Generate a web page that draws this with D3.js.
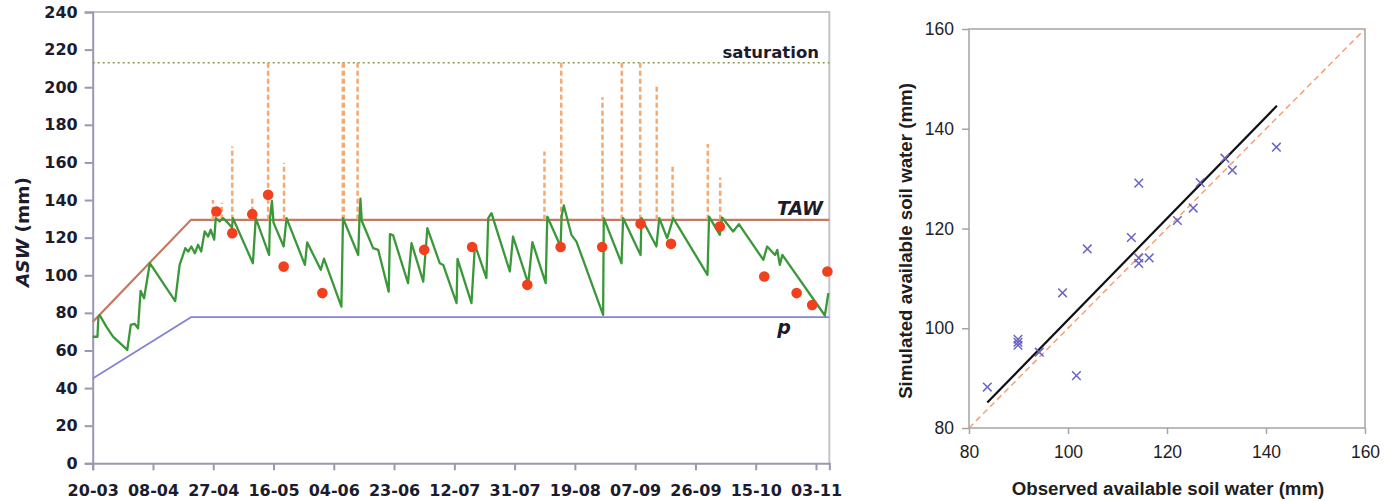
<!DOCTYPE html>
<html>
<head>
<meta charset="utf-8">
<script src="https://cdn.jsdelivr.net/npm/d3@7"></script>
<style>
  body { margin: 0; background: #fff; }
  svg { display: block; }
</style>
</head>
<body>
<svg id="chart" width="1397" height="501"></svg>
<script>
// season day (0 = 20-03) and simulated ASW (mm)
const simDay = [0, 1.5, 1.8, 2.2, 4.3, 6.4, 10.9, 12, 13.2, 14.3, 15.1, 16.2, 18, 26, 27.4, 29.2,
  30.1, 31.1, 32.2, 33.2, 34.2, 35.3, 36.4, 37.2, 38.3, 38.8, 40, 41.1, 42.7, 43.9, 44.2,
  50.5, 51.4, 55.6, 55.9, 56.5, 57, 60.2, 61.1, 66.9, 67.6, 71.9, 72.9, 78.4, 78.9,
  83.7, 84.1, 84.4, 84.8, 88.4, 90, 93.3, 93.7, 94.7, 99.4, 100.5, 104.2, 105.5, 109.4,
  110.5, 114.7, 115, 119.4, 120.5, 124.1, 124.7, 125.7, 131.5, 132.5, 137.3, 138.6,
  142.8, 143.3, 147.5, 147.8, 148.5, 150.9, 152.5, 160.9, 161.1, 166.7, 167.2, 172.7,
  173, 177.7, 178.6, 181.1, 183, 193.8, 194.3, 197.7, 198.4, 201.9, 203.7, 211.4, 212.6,
  215.1, 215.8, 216.6, 217.4, 230.8, 231.9];
const simASW = [67.3, 67.3, 78, 78.8, 72.7, 67.4, 60.3, 73.6, 74.2, 71.8, 91.7, 87.8, 106.4, 86.3, 105.5, 114.4,
  112.6, 115.3, 111.7, 116.2, 112.6, 123.3, 120.6, 124.2, 118.9, 130.4, 128.6, 130.4, 127.7, 125.4, 130.4,
  106.4, 130.4, 110.8, 130.4, 139.6, 128, 115.3, 130.4, 105.5, 117.5, 102.9, 108.8, 83.3, 130.4,
  110.8, 130.4, 140.8, 129, 114.4, 113.5, 91.3, 121.9, 121.2, 95.8, 117.1, 96.6, 125.1, 106.4,
  105.5, 85.2, 108.7, 85.2, 116.2, 98.5, 130.4, 133, 102, 120.6, 95.5, 117.6,
  95.8, 131.2, 115.3, 131.2, 137.1, 121.5, 117.9, 78.9, 130.4, 106.4, 130.4, 110.8,
  130.4, 115.3, 130.4, 119.7, 130.4, 100.2, 131.2, 121.5, 130.7, 123.3, 127.2, 108.2, 115.3,
  110.8, 113.5, 105.5, 110.8, 78.6, 90.5];

// observed ASW (red dots)
const obsDay = [39, 44, 50.3, 55.3, 60.2, 72.4, 104.5, 119.6, 137, 147.5, 160.6, 172.7, 182.3, 197.7, 211.7, 221.9, 226.8, 231.6];
const obsASW = [133.9, 122.4, 132.5, 142.8, 104.6, 90.5, 113.5, 115, 94.9, 115, 115, 127.4, 116.7, 125.9, 99.3, 90.5, 84.2, 102];

// days where ASW overshoots TAW (orange dashed spikes) and their tops
const spikeDay = [37.9, 40.7, 44.0, 50.3, 55.3, 60.3, 79.0, 83.5, 142.4, 147.7, 160.7, 166.8, 172.6, 177.8, 182.8, 193.9, 197.8];
const spikeTop = [140, 138.5, 168.5, 142.3, 213, 159.8, 213, 213, 165.8, 213, 194.6, 213, 213, 200.4, 158.8, 169.8, 152];

const tawDay = [0, 31, 232.2];
const tawASW = [75.2, 129.5, 129.5];
const pASW = [45.1, 77.7, 77.7];
const saturation = 213;

const xTickDay = [0, 19, 38, 57, 76, 95, 114, 133, 152, 171, 190, 209, 228];
const xTickLabel = ['20-03', '08-04', '27-04', '16-05', '04-06', '23-06', '12-07', '31-07', '19-08', '07-09', '26-09', '15-10', '03-11'];
const yTicks = d3.range(0, 241, 20);

// scatter: observed vs simulated
const obsAvail = [83.7, 89.9, 89.9, 89.9, 94.2, 98.9, 101.7, 103.9, 112.8, 114.3, 114.3, 114.3, 116.4, 122.1, 125.3, 126.7, 131.7, 133.2, 142.1];
const simAvail = [88.2, 97.8, 96.6, 97.2, 95.2, 107.1, 90.5, 115.9, 118.2, 129.1, 114.1, 113.0, 114.1, 121.6, 124.1, 129.2, 134.1, 131.7, 136.3];
const fitObs = [83.7, 142.2];
const fitSim = [85.1, 144.6];
const scatterTicks = [80, 100, 120, 140, 160];

const svg = d3.select('#chart');

// ---------- left panel ----------
const x = d3.scaleLinear().domain([0, 232.2]).range([92.7, 829.3]);
const y = d3.scaleLinear().domain([0, 240]).range([463.3, 12]);

const left = svg.append('g');

// frame
left.append('path')
  .attr('d', `M${x(0)},${y(240)}H${x(232.2)}V${y(0)}`)
  .attr('fill', 'none').attr('stroke', '#c4c4c8').attr('stroke-width', 2);

const yAxis = left.append('g')
  .attr('transform', `translate(${x(0)},0)`)
  .call(d3.axisLeft(y).tickValues(yTicks).tickSize(8).tickPadding(7));
const xAxis = left.append('g')
  .attr('transform', `translate(0,${y(0)})`)
  .call(d3.axisBottom(x).tickValues(xTickDay).tickSize(7).tickPadding(14)
    .tickFormat((d, i) => xTickLabel[i]));
[yAxis, xAxis].forEach(a => {
  a.selectAll('path, line').attr('stroke', '#9a98ae').attr('stroke-width', 2);
  a.selectAll('text').attr('font-family', 'DejaVu Sans').attr('font-weight', 'bold')
    .attr('font-size', 16).attr('fill', '#1c1c2c');
});

// saturation
left.append('line')
  .attr('x1', x(0)).attr('x2', x(232.2))
  .attr('y1', y(saturation)).attr('y2', y(saturation))
  .attr('stroke', '#8c9450').attr('stroke-width', 1.3).attr('stroke-dasharray', '2,3');

const line = d3.line();

// TAW and p
left.append('path')
  .attr('d', line(tawDay.map((d, i) => [x(d), y(tawASW[i])])))
  .attr('fill', 'none').attr('stroke', '#c47a62').attr('stroke-width', 2.2);
left.append('path')
  .attr('d', line(tawDay.map((d, i) => [x(d), y(pASW[i])])))
  .attr('fill', 'none').attr('stroke', '#8484d4').attr('stroke-width', 1.7);

// spikes above TAW
left.append('g').selectAll('line')
  .data(spikeDay)
  .join('line')
  .attr('x1', d => x(d)).attr('x2', d => x(d))
  .attr('y1', y(129.5)).attr('y2', (d, i) => y(spikeTop[i]))
  .attr('stroke', '#f8a86c')
  .attr('stroke-width', (d, i) => i === 6 ? 3.5 : 2.5)
  .attr('stroke-dasharray', '5,3');

// simulated
left.append('path')
  .attr('d', line(simDay.map((d, i) => [x(d), y(simASW[i])])))
  .attr('fill', 'none').attr('stroke', '#3a983a').attr('stroke-width', 2.3)
  .attr('stroke-linejoin', 'round');

// observed
left.append('g').selectAll('circle')
  .data(obsDay)
  .join('circle')
  .attr('cx', d => x(d))
  .attr('cy', (d, i) => y(obsASW[i]))
  .attr('r', 5.3)
  .attr('fill', '#f0401e');

// labels
left.append('text').attr('x', 819).attr('y', 58).attr('text-anchor', 'end')
  .attr('font-family', 'DejaVu Sans').attr('font-size', 16.5).attr('font-weight', 'bold')
  .attr('fill', '#1c1c2c')
  .text('saturation');
left.append('text').attr('x', 823).attr('y', 215).attr('text-anchor', 'end')
  .attr('font-family', 'DejaVu Sans').attr('font-size', 19).attr('font-style', 'italic')
  .attr('font-weight', 'bold').attr('fill', '#1c1c2c')
  .text('TAW');
left.append('text').attr('x', 784).attr('y', 334).attr('text-anchor', 'middle')
  .attr('font-family', 'DejaVu Sans').attr('font-size', 19).attr('font-style', 'italic')
  .attr('font-weight', 'bold').attr('fill', '#1c1c2c')
  .text('p');

const yTitle = left.append('text')
  .attr('transform', 'translate(29,232) rotate(-90)')
  .attr('text-anchor', 'middle')
  .attr('font-family', 'DejaVu Sans').attr('font-size', 18.5).attr('font-weight', 'bold')
  .attr('fill', '#1c1c2c');
yTitle.append('tspan').attr('font-style', 'italic').text('ASW');
yTitle.append('tspan').text(' (mm)');

// ---------- right panel ----------
const sx = d3.scaleLinear().domain([80, 160]).range([969, 1365]);
const sy = d3.scaleLinear().domain([80, 160]).range([428, 29]);

const right = svg.append('g');

right.append('rect')
  .attr('x', sx(80)).attr('y', sy(160))
  .attr('width', sx(160) - sx(80)).attr('height', sy(80) - sy(160))
  .attr('fill', 'none').attr('stroke', '#a4a4a4').attr('stroke-width', 1.5);

const syAxis = right.append('g')
  .attr('transform', `translate(${sx(80)},0)`)
  .call(d3.axisLeft(sy).tickValues(scatterTicks).tickSize(7).tickPadding(8));
const sxAxis = right.append('g')
  .attr('transform', `translate(0,${sy(80)})`)
  .call(d3.axisBottom(sx).tickValues(scatterTicks).tickSize(6).tickPadding(12));
[syAxis, sxAxis].forEach(a => {
  a.select('.domain').remove();
  a.selectAll('line').attr('stroke', '#a4a4a4').attr('stroke-width', 1.5);
  a.selectAll('text').attr('font-family', 'Liberation Sans')
    .attr('font-size', 17.5).attr('fill', '#1e1e1e');
});

// 1:1 line
right.append('line')
  .attr('x1', sx(80)).attr('y1', sy(80)).attr('x2', sx(160)).attr('y2', sy(160))
  .attr('stroke', '#f4a070').attr('stroke-width', 1.5).attr('stroke-dasharray', '6,4');

// regression
right.append('line')
  .attr('x1', sx(fitObs[0])).attr('y1', sy(fitSim[0]))
  .attr('x2', sx(fitObs[1])).attr('y2', sy(fitSim[1]))
  .attr('stroke', '#111').attr('stroke-width', 2.2);

// points
const m = 4.3;
right.append('g').selectAll('path')
  .data(obsAvail)
  .join('path')
  .attr('d', (d, i) => {
    const cx = sx(d), cy = sy(simAvail[i]);
    return `M${cx - m},${cy - m}L${cx + m},${cy + m}M${cx - m},${cy + m}L${cx + m},${cy - m}`;
  })
  .attr('stroke', '#6a64c4').attr('stroke-width', 1.5).attr('fill', 'none');

right.append('text')
  .attr('transform', `translate(912,241) rotate(-90)`)
  .attr('text-anchor', 'middle')
  .attr('font-family', 'Liberation Sans').attr('font-weight', 'bold').attr('font-size', 18.7)
  .attr('fill', '#1e1e1e')
  .text('Simulated available soil water (mm)');
right.append('text')
  .attr('x', 1168).attr('y', 495)
  .attr('text-anchor', 'middle')
  .attr('font-family', 'Liberation Sans').attr('font-weight', 'bold').attr('font-size', 18.7)
  .attr('fill', '#1e1e1e')
  .text('Observed available soil water (mm)');
</script>
</body>
</html>
